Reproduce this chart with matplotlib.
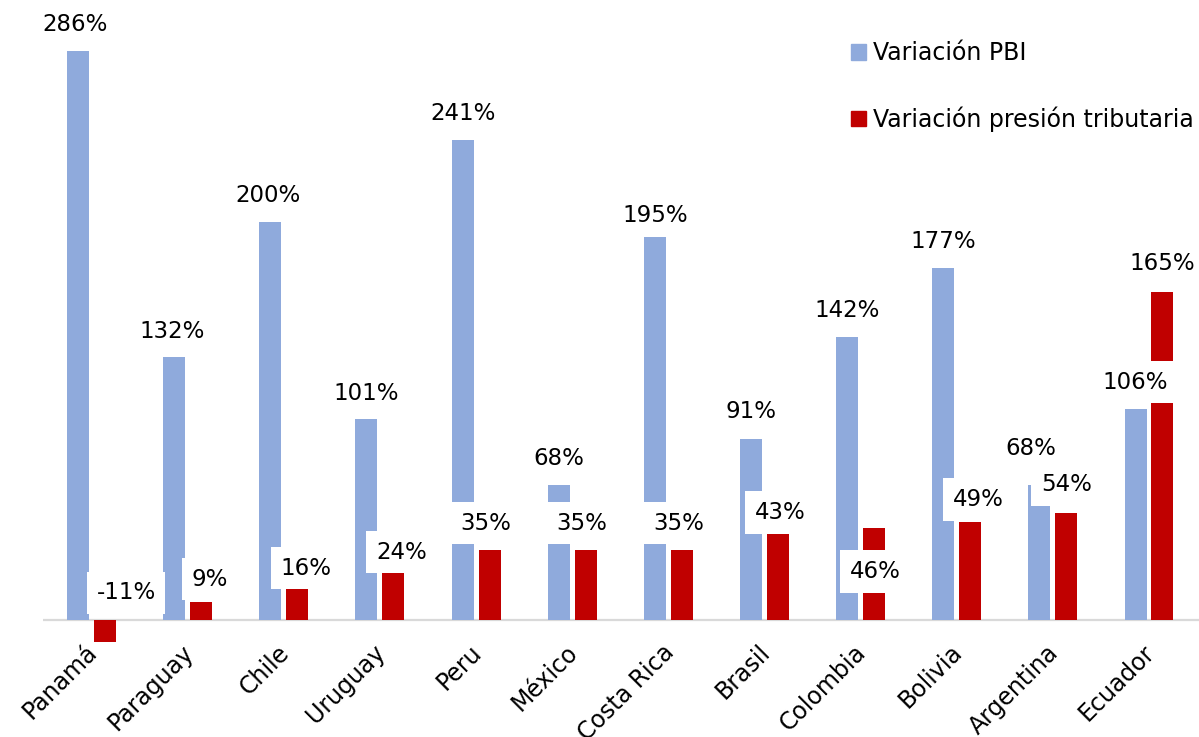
import matplotlib.pyplot as plt
from matplotlib.patches import Patch
import numpy as np

paises = ["Panamá", "Paraguay", "Chile", "Uruguay", "Peru", "México",
          "Costa Rica", "Brasil", "Colombia", "Bolivia", "Argentina", "Ecuador"]
var_pbi = [286, 132, 200, 101, 241, 68, 195, 91, 142, 177, 68, 106]
var_presion = [-11, 9, 16, 24, 35, 35, 35, 43, 46, 49, 54, 165]

# label offsets in pixels (dx, dy above top of bar)
off_pbi = [(-3, 26), (-2, 26), (-2, 26), (0, 26), (0, 27), (0, 26),
           (0, 16), (0, 27), (0, 27), (0, 26), (-9, 36), (0, 27)]
off_pres = [(21, 27), (9, 23), (9, 20), (8, 20), (-4, 27), (-4, 27),
            (-3, 27), (2, 22), (1, -43), (8, 23), (0, 28), (0, 28)]

azul = "#8FAADC"
rojo = "#C00000"
fs = 16.5

fig = plt.figure(figsize=(11.99, 7.37), dpi=100)
ax = fig.add_axes([43 / 1199, 87 / 737, 1156 / 1199, 650 / 737])

x = np.arange(len(paises))
w = 0.229
d = 0.14
ax.bar(x - d, var_pbi, w, color=azul, zorder=2)
ax.bar(x + d, var_presion, w, color=rojo, zorder=2)
ax.axhline(0, color="#D9D9D9", lw=1.6, zorder=1)

box = dict(boxstyle="square,pad=0.42", fc="white", ec="none")
for i in range(len(paises)):
    dx, dy = off_pbi[i]
    ax.annotate(f"{var_pbi[i]}%", xy=(x[i] - d, max(var_pbi[i], 0)),
                xytext=(dx * 0.72, dy * 0.72), textcoords="offset points",
                ha="center", va="center", fontsize=fs, bbox=box, zorder=5)
    dx, dy = off_pres[i]
    ax.annotate(f"{var_presion[i]}%", xy=(x[i] + d, max(var_presion[i], 0)),
                xytext=(dx * 0.72, dy * 0.72), textcoords="offset points",
                ha="center", va="center", fontsize=fs, bbox=box, zorder=5)

ax.set_xlim(-0.505, 11.52)
ax.set_ylim(-15.08, 311.56)
ax.set_yticks([])
ax.set_xticks(x - 0.07)
ax.set_xticklabels(paises, rotation=45, ha="right", rotation_mode="anchor",
                   fontsize=17)
ax.tick_params(axis="x", length=0, pad=-7)
for s in ax.spines.values():
    s.set_visible(False)

handles = [Patch(color=azul, label="Variación PBI"),
           Patch(color=rojo, label="Variación presión tributaria")]
fig.legend(handles=handles, loc="upper left", bbox_to_anchor=(830 / 1199, 1 - 20 / 737),
           frameon=False, fontsize=17, handlelength=0.62, handleheight=0.62,
           handletextpad=0.3, labelspacing=1.75)

fig.savefig("out.png", dpi=100)
